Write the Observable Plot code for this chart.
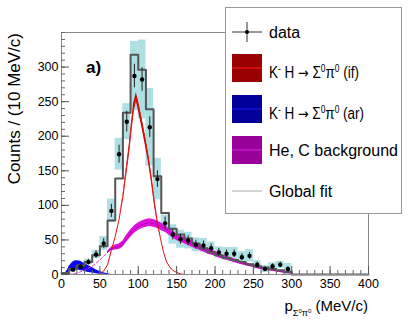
<!DOCTYPE html>
<html>
<head>
<meta charset="utf-8">
<script src="https://cdn.jsdelivr.net/npm/d3@7"></script>
<script src="https://cdn.jsdelivr.net/npm/@observablehq/plot@0.6"></script>
<style>
  html, body { margin: 0; padding: 0; background: white; overflow: hidden; }
</style>
</head>
<body>
<div id="chart"></div>
<script>
// ---------- data ----------
const binCenters = [15,25,35,45,55,65,75,85,95,105,115,125,135,145,155,165,175,185,195,205,215,225,235,245,255,265,275,285,295];
const dataCounts = [7,11,18,29,45,92,174,221,287,282,213,138,74,58,51,49,43,42,38,32,30,30,25,27,14,8,12,14,8];
const statErr    = [3,3.5,4,5.5,7,9.5,13,15,17,17,15,12,9,8,7,7,6.5,6.5,6,5.5,5.5,5.5,5,5,4,3,3.5,4,3];
const sysErr     = [3,3,4,6,10,17,23,26,50,57,56,30,12,14,13,12,10,10,9,8,9,9,8,9,6,5,5,5,8];

const fitEdges  = [0,10,20,30,40,50,60,70,80,90,100,110,120,130,140,150,160,170,180,190,200,210,220,230,240,250,260,270,280,290,300,310,320,330,340,350,360,370,380,390,400];
const fitCounts = [2,8,13,18,28,41,78,139,234,318,296,239,142,89,66,58,52,45,38,32,28,24,21,18,15,12,10,8,6,4,0,0,0,0,0,0,0,0,0,0,0];

const ifX    = [50,55,60,65,70,75,80,85,88,91,94,97.5,101,105,109,113,117,121,125,129,133,137,141,145,150,155,160];
const ifMid  = [1,5,14,35,55,80,112,155,180,212,240,257,240,218,195,170,140,105,75,52,32,18,11,6,3,1,0];
const ifHalf = [0,0,0,0,0,0,2,4,5,6,7,6,7,7,7,6,5,4,2,0,0,0,0,0,0,0,0];

const arX  = [5,8,10,13,15,18,20,23,25,28,30,35,40,45,50,55,60,65];
const arHi = [2,7,12,16,18,20,20,19.5,19,17,16,13,10,7,4.5,2.5,1,0];
const arLo = [0,1,3,5,6,6.5,6.5,6,5.5,5,4.5,3,2,1,0.5,0.2,0,0];

const bgX    = [10,20,30,40,50,60,65,70,75,80,85,90,95,100,105,110,115,120,125,130,135,140,145,150,160,170,180,190,200,210,220,230,240,250,260,270,280,290,300];
const bgMid  = [0,2,6,12,21,32,37,39,40,44,52,59,65,69,72,74,75,74,72,69,66,62,58,54,49,44,39,34,30,25,22,18,15,12,9,7,5,3,2];
const bgHalf = [0,0,0,0,0,1.5,2.5,3.5,4,4.5,5,5.5,5.5,5.5,5.5,5.5,5.5,5.5,5.5,5.5,5,5,5,5,4.5,4.5,4,4,3.5,3,3,2.5,2.5,2,2,1.5,1,1,1];

const xTicks = [0,50,100,150,200,250,300,350,400];
const yTicks = [0,50,100,150,200,250,300];

// ---------- tables ----------
const points = binCenters.map((x, i) => ({x, y: dataCounts[i], stat: statErr[i], sys: sysErr[i]}));
const fit = fitEdges.map((x, i) => ({x, y: fitCounts[i]}));
const sigIf = ifX.map((x, i) => ({x, mid: ifMid[i], lo: ifMid[i] - ifHalf[i], hi: ifMid[i] + ifHalf[i]}));
const sigAr = arX.map((x, i) => ({x, lo: arLo[i], hi: arHi[i]}));
const bg = bgX.map((x, i) => ({x, mid: bgMid[i], lo: bgMid[i] - bgHalf[i], hi: bgMid[i] + bgHalf[i]}));
const bgBand = bg.filter(d => d.x >= 60);
const bgTail = bg.filter(d => d.x <= 60);

const W = 409, H = 327;
const mL = 61, mR = 41, mT = 32, mB = 53;
const plotW = W - mL - mR, plotH = H - mT - mB;
const xMinor = d3.range(0, 401, 10);
const yMinor = d3.range(0, 351, 10);

const svg = Plot.plot({
  width: W, height: H,
  marginLeft: mL, marginRight: mR, marginTop: mT, marginBottom: mB,
  style: {fontFamily: "'Liberation Sans', Arial, Helvetica, sans-serif", fontSize: "12.5px", background: "white", color: "black"},
  x: {domain: [0, 400], axis: null},
  y: {domain: [0, 350], axis: null},
  marks: [
    Plot.rect(points, {x1: d => d.x - 5, x2: d => d.x + 5, y1: d => Math.max(0, d.y - d.sys), y2: d => d.y + d.sys, fill: "#addfe3", clip: true}),
    Plot.areaY(sigAr, {x: "x", y1: "lo", y2: "hi", fill: "#0b0bf0"}),
    Plot.line(bgTail, {x: "x", y: "mid", stroke: "#e040e0", strokeWidth: 1, strokeDasharray: "3,2"}),
    Plot.areaY(bgBand, {x: "x", y1: "lo", y2: "hi", fill: "#dd10dd"}),
    Plot.line(bgBand, {x: "x", y: "mid", stroke: "#b000b0", strokeWidth: 0.8}),
    Plot.areaY(sigIf, {x: "x", y1: "lo", y2: "hi", fill: "#c80000"}),
    Plot.line(sigIf, {x: "x", y: "mid", stroke: "#e41010", strokeWidth: 1}),
    Plot.line(fit, {x: "x", y: "y", curve: "step-after", stroke: "#555", strokeWidth: 2}),
    Plot.ruleX(points, {x: "x", y1: d => d.y - d.stat, y2: d => d.y + d.stat, stroke: "#222", strokeWidth: 1}),
    Plot.dot(points, {x: "x", y: "y", r: 2.2, fill: "black", stroke: null}),
    Plot.frame({stroke: "#888"}),
    Plot.ruleY(yMinor, {y: d => d, insetRight: plotW - 4, stroke: "#666"}),
    Plot.ruleY(yTicks, {y: d => d, insetRight: plotW - 8, stroke: "#555"}),
    Plot.ruleX(xMinor, {x: d => d, insetTop: plotH - 4, stroke: "#666"}),
    Plot.ruleX(xTicks, {x: d => d, insetTop: plotH - 8, stroke: "#555"}),
    Plot.axisY({ticks: yTicks, tickSize: 0, tickPadding: 3, label: null, fontSize: 12.5}),
    Plot.axisX({ticks: xTicks, tickSize: 0, tickPadding: 5, label: null, fontSize: 12.5})
  ]
});
document.getElementById("chart").appendChild(svg);

// ---------- titles and legend ----------
const s = d3.select(svg);
const font = "'Liberation Sans', Arial, Helvetica, sans-serif";

// panel label
s.append("text").attr("x", 86).attr("y", 73).attr("text-anchor", "start").attr("font-family", font)
  .attr("font-size", 17).attr("font-weight", "bold").attr("fill", "black").text("a)");

// y title
s.append("text").attr("transform", "translate(20,33) rotate(-90)")
  .attr("text-anchor", "end").attr("font-family", font).attr("font-size", 17)
  .attr("fill", "black").text("Counts / (10 MeV/c)");

// x title
const xt = s.append("text").attr("x", 368).attr("y", 311).attr("text-anchor", "end")
  .attr("font-family", font).attr("font-size", 15).attr("fill", "black");
xt.append("tspan").text("p");
xt.append("tspan").attr("font-size", 9).attr("dy", 5).text("Σ");
xt.append("tspan").attr("font-size", 6).attr("dy", -3).text("0");
xt.append("tspan").attr("font-size", 9).attr("dy", 3).text("π");
xt.append("tspan").attr("font-size", 6).attr("dy", -3).text("0");
xt.append("tspan").attr("font-size", 15).attr("dy", -2).text(" (MeV/c)");

// legend
const lg = s.append("g").attr("text-anchor", "start");
lg.append("rect").attr("x", 225.5).attr("y", 7.5).attr("width", 176).attr("height", 206)
  .attr("fill", "white").attr("stroke", "#999");

const sx = 232, sw = 30, tx = 269;
// data entry
lg.append("line").attr("x1", sx).attr("x2", sx + sw).attr("y1", 32).attr("y2", 32).attr("stroke", "#333");
lg.append("line").attr("x1", sx + sw / 2).attr("x2", sx + sw / 2).attr("y1", 22).attr("y2", 42).attr("stroke", "#333");
lg.append("circle").attr("cx", sx + sw / 2).attr("cy", 32).attr("r", 2).attr("fill", "black");
lg.append("text").attr("x", tx).attr("y", 38).attr("text-anchor", "start").attr("font-family", font).attr("font-size", 16).attr("fill", "black").text("data");

const swatches = [
  {cy: 68, fill: "#990000", line: "#ff1a1a"},
  {cy: 109, fill: "#000099", line: "#1a1aff"},
  {cy: 150, fill: "#990099", line: "#dd22dd"},
  {cy: 191, fill: "white", line: "#aaa"}
];
swatches.forEach(d => {
  lg.append("rect").attr("x", sx).attr("y", d.cy - 14).attr("width", sw).attr("height", 28).attr("fill", d.fill);
  lg.append("line").attr("x1", sx).attr("x2", sx + sw).attr("y1", d.cy).attr("y2", d.cy).attr("stroke", d.line).attr("stroke-width", 1);
});

function formula(y, tag, len) {
  const t = lg.append("text").attr("x", tx).attr("y", y).attr("text-anchor", "start").attr("font-family", font)
    .attr("font-size", 16).attr("fill", "black")
    .attr("textLength", len).attr("lengthAdjust", "spacingAndGlyphs");
  t.append("tspan").text("K");
  t.append("tspan").attr("font-size", 10).attr("dy", -6).text("-");
  t.append("tspan").attr("dy", 6).text(" H ");
  t.append("tspan").attr("font-family", "'DejaVu Sans', sans-serif").attr("font-size", 15).text("→");
  t.append("tspan").text(" Σ");
  t.append("tspan").attr("font-size", 10).attr("dy", -6).text("0");
  t.append("tspan").attr("dy", 6).text("π");
  t.append("tspan").attr("font-size", 10).attr("dy", -6).text("0");
  t.append("tspan").attr("dy", 6).text(" (" + tag + ")");
}
formula(78, "if", 90);
formula(119, "ar", 95);
lg.append("text").attr("x", tx).attr("y", 156).attr("text-anchor", "start").attr("font-family", font).attr("font-size", 16).attr("fill", "black").text("He, C background");
lg.append("text").attr("x", tx).attr("y", 197).attr("text-anchor", "start").attr("font-family", font).attr("font-size", 16).attr("fill", "black").text("Global fit");
</script>
</body>
</html>
